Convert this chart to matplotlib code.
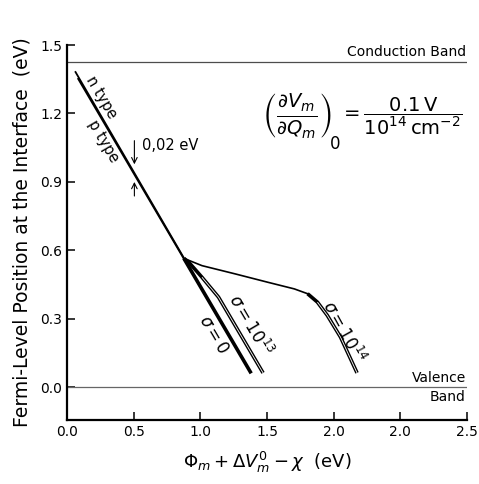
import matplotlib
matplotlib.use('Agg')
import matplotlib.pyplot as plt

# Common branch (n type / p type)
n_x = [0.06, 0.876]
n_y = [1.385, 0.567]
p_x = [0.08, 0.876]
p_y = [1.355, 0.563]

# sigma = 0 continuation
s0_x = [0.876, 1.381]
s0_y = [0.565, 0.061]

# sigma = 1e13
s13_x = [0.876, 0.913, 1.012, 1.136, 1.470]
s13_y = [0.565, 0.548, 0.482, 0.395, 0.063]

# sigma = 1e14
s14_x = [0.876, 1.012, 1.260, 1.507, 1.705, 1.804, 1.878, 1.952, 2.051, 2.175]
s14_y = [0.565, 0.533, 0.497, 0.460, 0.431, 0.410, 0.373, 0.315, 0.220, 0.063]

conduction = 1.425
valence = 0.0

xticks = [0.0, 0.5, 1.0, 1.5, 2.0, 2.5, 3.0]
xlabels = ['0.0', '0.5', '1.0', '1.5', '2.0', '2.0', '2.5']
yticks = [0.0, 0.3, 0.6, 0.9, 1.2, 1.5]

fig = plt.figure(figsize=(4.79, 4.84), dpi=100)
ax = fig.add_axes([0.140, 0.132, 0.835, 0.775])
ax.set_xlim(0, 3.0)
ax.set_ylim(-0.144, 1.5)

for s in ('top', 'right'):
    ax.spines[s].set_visible(False)
for s in ('left', 'bottom'):
    ax.spines[s].set_linewidth(1.6)

# band edges
ax.axhline(conduction, color='0.3', lw=0.9)
ax.axhline(valence, color='0.4', lw=0.9)
ax.text(2.99, conduction + 0.015, 'Conduction Band', ha='right', va='bottom', fontsize=10)
ax.text(2.99, valence + 0.012, 'Valence', ha='right', va='bottom', fontsize=10)
ax.text(2.99, valence - 0.012, 'Band', ha='right', va='top', fontsize=10)

# n / p type lines
ax.plot(n_x, n_y, color='k', lw=1.3, solid_capstyle='butt')
ax.plot(p_x, p_y, color='k', lw=1.3, solid_capstyle='butt')

# sigma = 0
ax.plot(s0_x, s0_y, color='k', lw=2.6, solid_capstyle='butt')

# sigma = 1e13 (double line)
ax.plot(s13_x, s13_y, color='k', lw=2.6, solid_capstyle='butt')
ax.plot(s13_x[2:], s13_y[2:], color='white', lw=0.6, solid_capstyle='butt')

# sigma = 1e14: thin flat part, double steep part
ax.plot(s14_x[:6], s14_y[:6], color='k', lw=1.2)
ax.plot(s14_x[5:], s14_y[5:], color='k', lw=2.6, solid_capstyle='butt')
ax.plot(s14_x[6:], s14_y[6:], color='white', lw=0.6, solid_capstyle='butt')

# line labels
ax.text(0.257, 1.269, 'n type', rotation=-59.5, ha='center', va='center',
        rotation_mode='anchor', fontsize=10.5)
ax.text(0.275, 1.080, 'p type', rotation=-59.5, ha='center', va='center',
        rotation_mode='anchor', fontsize=10.5)
ax.text(1.099, 0.232, r'$\sigma = 0$', rotation=-59.5, ha='center', va='center',
        rotation_mode='anchor', fontsize=12)
ax.text(1.371, 0.271, r'$\sigma = 10^{13}$', rotation=-59.5, ha='center', va='center',
        rotation_mode='anchor', fontsize=12)
ax.text(2.076, 0.242, r'$\sigma = 10^{14}$', rotation=-61, ha='center', va='center',
        rotation_mode='anchor', fontsize=12)

# 0.02 eV marker
ax.annotate('', xy=(0.505, 0.965), xytext=(0.505, 1.093),
            arrowprops=dict(arrowstyle='->', lw=0.8, color='k'))
ax.annotate('', xy=(0.505, 0.912), xytext=(0.505, 0.826),
            arrowprops=dict(arrowstyle='->', lw=0.8, color='k'))
ax.text(0.56, 1.06, '0,02 eV', ha='left', va='center', fontsize=10.5)

# formula, built in three pieces so the subscript 0 sits low
ax.text(1.99, 1.19, r'$\left(\frac{\partial V_m}{\partial Q_m}\right)$',
        ha='right', va='center', fontsize=20)
ax.text(1.975, 1.065, '0', ha='left', va='center', fontsize=12)
ax.text(2.045, 1.19, r'$= \dfrac{0.1\,\mathrm{V}}{10^{14}\,\mathrm{cm}^{-2}}$',
        ha='left', va='center', fontsize=14)

ax.set_xticks(xticks)
ax.set_xticklabels(xlabels)
ax.set_yticks(yticks)
ax.set_yticklabels([f'{v:.1f}' for v in yticks])
ax.tick_params(direction='in', length=6, width=1.1, labelsize=10)

ax.set_xlabel(r'$\Phi_m + \Delta V_m^0 - \chi$  (eV)', fontsize=13, labelpad=8)
ax.set_ylabel('Fermi-Level Position at the Interface  (eV)', fontsize=13.5, labelpad=6)

fig.savefig('out.png', dpi=100)
